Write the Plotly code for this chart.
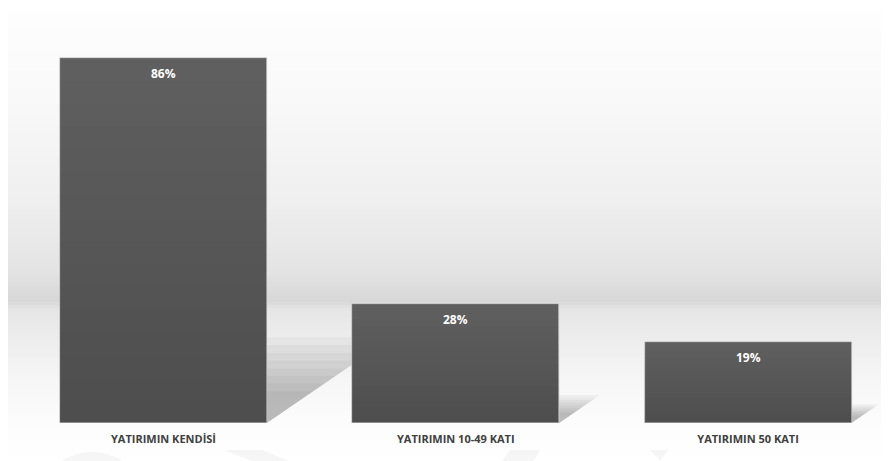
import plotly.graph_objects as go

categories = ["YATIRIMIN KENDİSİ", "YATIRIMIN 10-49 KATI", "YATIRIMIN 50 KATI"]
values = [86, 28, 19]
value_labels = ["86%", "28%", "19%"]

# page body has an 8px margin, so the figure is sized to fit inside the window
OFF = 8
W, H = 889 - OFF, 461 - OFF
ML, MR, MT, MB = 10 - OFF, 10, 20 - OFF, 38
plot_h = H - MT - MB
plot_w = W - ML - MR
bar_w = 0.708
y_max = 95
x_lo, x_hi = -0.525, 2.448

fig = go.Figure()

x_pos = list(range(len(categories)))
fig.add_trace(go.Bar(
    x=x_pos, y=values, width=bar_w,
    marker=dict(color="#606060", line=dict(color="#d9d9d9", width=0.6)),
    hoverinfo="skip", showlegend=False,
))

shapes = []
# background gradient (page pixel row -> gray level)
profile = [(0, 254), (100, 249), (200, 239), (270, 228), (292, 219), (302, 216),
           (310, 230), (330, 235), (380, 246), (420, 252), (461, 255)]

def gray_at(py):
    for (a, ga), (b, gb) in zip(profile, profile[1:]):
        if a <= py <= b:
            t = (py - a) / (b - a)
            return round(ga + (gb - ga) * t)
    return 255

def py_to_paper(py_page):
    return (H - MB - (py_page - OFF)) / plot_h

def ppx(px_page):
    return (px_page - OFF - ML) / plot_w

step = 3
py = OFF
while py < 461:
    g = gray_at(py + step / 2)
    shapes.append(dict(type="rect", xref="paper", yref="paper",
                       x0=ppx(OFF - 2), x1=ppx(891), y0=py_to_paper(py + step), y1=py_to_paper(py),
                       fillcolor=f"rgb({g},{g},{g})", line=dict(width=0), layer="below"))
    py += step

# faint watermark shapes at the bottom
shapes.append(dict(type="circle", xref="paper", yref="paper",
                   x0=ppx(34), x1=ppx(150),
                   y0=py_to_paper(452 + 116), y1=py_to_paper(452),
                   fillcolor="rgba(0,0,0,0.035)", line=dict(width=0), layer="below"))
wm_paths = [
    [(224, 450), (262, 450), (290, 461), (252, 461)],
    [(510, 450), (540, 450), (534, 461), (502, 461)],
    [(650, 450), (668, 450), (660, 461)],
]
for pts in wm_paths:
    d = "M " + " L ".join(f"{ppx(x):.4f},{py_to_paper(y):.4f}" for x, y in pts) + " Z"
    shapes.append(dict(type="path", xref="paper", yref="paper", path=d,
                       fillcolor="rgba(0,0,0,0.035)", line=dict(width=0), layer="below"))

# cast shadows behind bars (derived from bar values)
px_per_x = plot_w / (x_hi - x_lo)
px_per_y = plot_h / y_max
for i, v in enumerate(values):
    R = i + bar_w / 2
    n = 8
    for k in range(n):
        frac = 1.0 - k * 0.09
        hs = 0.235 * v * frac
        dx = 1.46 * hs * px_per_y / px_per_x
        d = f"M {R},0 L {R},{hs} L {R + dx},{hs} Z"
        shapes.append(dict(type="path", xref="x", yref="y", path=d,
                           fillcolor="rgba(0,0,0,0.034)", line=dict(width=0), layer="below"))

# vertical shading over each bar (darker toward the base)
nb = 16
for i, v in enumerate(values):
    for k in range(nb):
        y0 = v * k / nb
        y1 = v * (k + 1) / nb
        alpha = 0.19 * (1 - (k + 0.5) / nb)
        shapes.append(dict(type="rect", xref="x", yref="y",
                           x0=i - bar_w / 2, x1=i + bar_w / 2, y0=y0, y1=y1,
                           fillcolor=f"rgba(0,0,0,{alpha:.3f})", line=dict(width=0), layer="above"))

annotations = []
for i, (v, t) in enumerate(zip(values, value_labels)):
    annotations.append(dict(x=i, y=v, xref="x", yref="y", text=t, showarrow=False,
                            yanchor="top", yshift=-5,
                            font=dict(family="Open Sans", size=12, color="white", weight="bold")))

fig.update_layout(
    width=W, height=H,
    margin=dict(l=ML, r=MR, t=MT, b=MB),
    paper_bgcolor="white", plot_bgcolor="rgba(0,0,0,0)",
    shapes=shapes, annotations=annotations,
    bargap=0,
    xaxis=dict(range=[x_lo, x_hi], tickvals=x_pos, ticktext=categories,
               showgrid=False, zeroline=False, showline=False, ticks="",
               ticklabelstandoff=8,
               tickfont=dict(family="Open Sans", size=11, color="#404040", weight="bold")),
    yaxis=dict(range=[0, y_max], showgrid=False, zeroline=False, showline=False,
               showticklabels=False, ticks=""),
)

fig.write_html("out.html")
